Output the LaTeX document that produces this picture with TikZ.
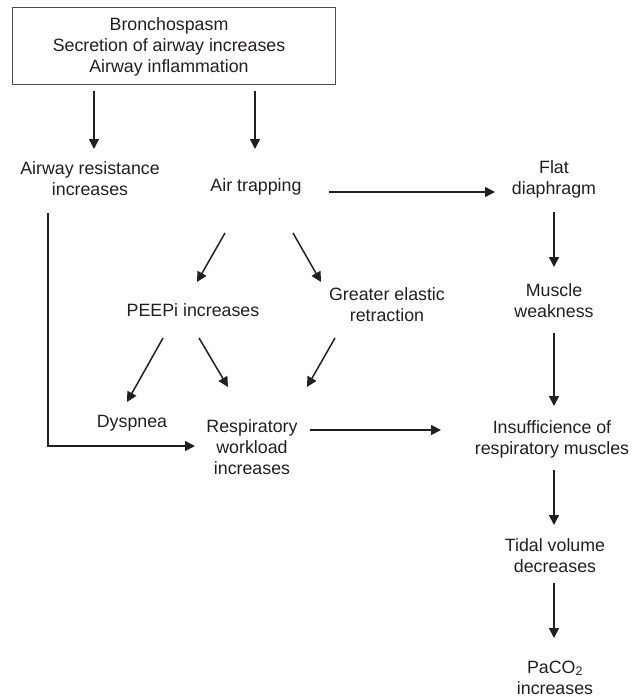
\documentclass[tikz,border=0pt]{standalone}
\usepackage{fontspec}
\setmainfont{Liberation Sans}
\usetikzlibrary{arrows.meta}
\definecolor{ink}{HTML}{231F20}
\begin{document}
\begin{tikzpicture}[x=1pt,y=-1pt,
  lbl/.style={align=center,font=\fontsize{17.8}{21}\selectfont,inner sep=0pt,text=ink},
  arr/.style={-{Triangle[length=10pt,width=10pt]},line width=1.5pt,draw=ink},
  boxframe/.style={draw=ink!80,line width=0.9pt,minimum width=323pt,minimum height=77pt,inner sep=0pt}]
\useasboundingbox (0,0) rectangle (640,697);
\fill[white] (0,0) rectangle (640,697);

\node[boxframe] (box) at (173.5,45.5) {};
\node[lbl] (boxtext) at (169,46.5) {Bronchospasm\\Secretion of airway increases\\Airway inflammation};
\node[lbl] (ares) at (90,178.5) {Airway resistance\\increases};
\node[lbl] (trap) at (256,187) {Air trapping};
\node[lbl] (flat) at (554,179) {Flat\\diaphragm};
\node[lbl] (muscle) at (554,301) {Muscle\\weakness};
\node[lbl] (peepi) at (193,310) {PEEPi increases};
\node[lbl] (greater) at (387,305) {Greater elastic\\retraction};
\node[lbl] (dysp) at (132,423) {Dyspnea};
\node[lbl] (resp) at (252,447.5) {Respiratory\\workload\\increases};
\node[lbl] (insuf) at (552,439) {Insufficience of\\respiratory muscles};
\node[lbl] (tidal) at (555,555.5) {Tidal volume\\decreases};
\node[lbl] (paco) at (555,677.5) {PaCO\textsubscript{2}\\increases};

\draw[arr] ([shift={(-79.5,45)}]box.center) -- ([shift={(4,-29.5)}]ares.center);
\draw[arr] ([shift={(81.5,45)}]box.center) -- ([shift={(-1,-38)}]trap.center);
\draw[arr] ([shift={(73,5)}]trap.center) -- ([shift={(-59,13)}]flat.center);
\draw[arr] ([shift={(0,33)}]flat.center) -- ([shift={(0,-34)}]muscle.center);
\draw[arr] ([shift={(0,32)}]muscle.center) -- ([shift={(2,-33)}]insuf.center);
\draw[arr] ([shift={(2,31)}]insuf.center) -- ([shift={(-1,-30.5)}]tidal.center);
\draw[arr] ([shift={(-1,27.5)}]tidal.center) -- ([shift={(-1,-39.5)}]paco.center);
\draw[arr] ([shift={(-31,46)}]trap.center) -- ([shift={(4,-28)}]peepi.center);
\draw[arr] ([shift={(37,46)}]trap.center) -- ([shift={(-66,-23)}]greater.center);
\draw[arr] ([shift={(-30,28)}]peepi.center) -- ([shift={(-5,-21)}]dysp.center);
\draw[arr] ([shift={(6,28)}]peepi.center) -- ([shift={(-24,-60.5)}]resp.center);
\draw[arr] ([shift={(-52,33)}]greater.center) -- ([shift={(55,-60.5)}]resp.center);
\draw[arr] ([shift={(-42,34.5)}]ares.center) |- ([shift={(-57,-1.5)}]resp.center);
\draw[arr] ([shift={(58,-17.5)}]resp.center) -- ([shift={(-111,-9)}]insuf.center);
\end{tikzpicture}
\end{document}
